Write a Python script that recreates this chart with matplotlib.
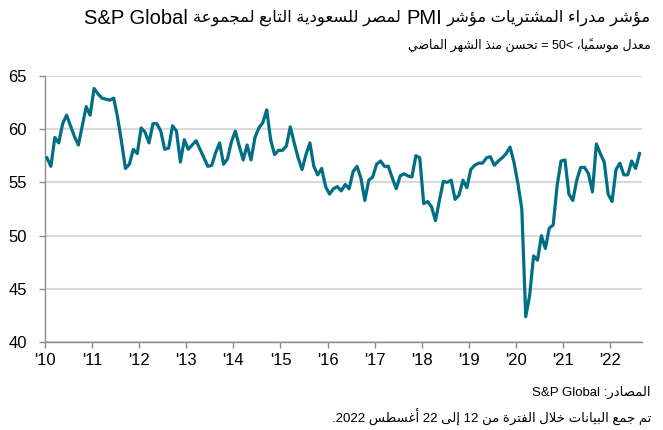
import matplotlib
matplotlib.use("Agg")
import matplotlib.pyplot as plt
import numpy as np

# ---------------- data ----------------
years = list(range(2010, 2023))
tick_labels = ["'10", "'11", "'12", "'13", "'14", "'15", "'16", "'17", "'18", "'19", "'20", "'21", "'22"]
pmi_2010 = [57.3, 56.5, 59.2, 58.7, 60.5, 61.3, 60.3, 59.3, 58.5, 60.3, 62.1, 61.3]
pmi_2011 = [63.8, 63.3, 62.9, 62.8, 62.7, 62.9, 61.1, 58.8, 56.3, 56.7, 58.1, 57.7]
pmi_2012 = [60.1, 59.7, 58.7, 60.5, 60.5, 59.8, 58.1, 58.2, 60.3, 59.8, 56.9, 59.0]
pmi_2013 = [58.1, 58.5, 58.9, 58.1, 57.3, 56.5, 56.6, 57.8, 58.7, 56.7, 57.2, 58.8]
pmi_2014 = [59.8, 58.4, 57.1, 58.5, 57.1, 59.2, 60.1, 60.6, 61.8, 59.0, 57.6, 58.0]
pmi_2015 = [58.0, 58.4, 60.2, 58.7, 57.3, 56.2, 57.6, 58.7, 56.5, 55.7, 56.3, 54.6]
pmi_2016 = [53.9, 54.4, 54.6, 54.2, 54.8, 54.4, 56.0, 56.5, 55.4, 53.3, 55.2, 55.5]
pmi_2017 = [56.7, 57.0, 56.5, 56.5, 55.4, 54.4, 55.6, 55.8, 55.6, 55.5, 57.5, 57.3]
pmi_2018 = [53.0, 53.2, 52.7, 51.4, 53.3, 55.1, 55.0, 55.2, 53.4, 53.8, 55.2, 54.5]
pmi_2019 = [56.2, 56.6, 56.8, 56.8, 57.3, 57.4, 56.6, 57.0, 57.3, 57.7, 58.3, 56.9]
pmi_2020 = [54.9, 52.5, 42.4, 44.4, 48.1, 47.7, 50.0, 48.8, 50.7, 51.0, 54.7, 57.0]
pmi_2021 = [57.1, 53.9, 53.3, 55.2, 56.4, 56.4, 55.8, 54.1, 58.6, 57.7, 56.9, 53.9]
pmi_2022 = [53.2, 56.2, 56.8, 55.7, 55.7, 57.0, 56.3, 57.7]

# title in logical (right-to-left) order, as runs: (words, is_latin)
title_runs = [("مؤشر مدراء المشتريات مؤشر", False), ("PMI", True),
              ("لمصر للسعودية التابع لمجموعة", False), ("S&P Global", True)]
subtitle_words = ["معدل", "موسميًا،", "50<", "=", "تحسن", "منذ", "الشهر", "الماضي"]
source_words = ["المصادر:", "S&P Global"]
note_words = ["تم", "جمع", "البيانات", "خلال", "الفترة", "من", "12", "إلى", "22", "أغسطس", ".2022"]

# ---------------- minimal Arabic shaping ----------------
DUAL = {0x0626: 0xFE89, 0x0628: 0xFE8F, 0x062A: 0xFE95, 0x062B: 0xFE99, 0x062C: 0xFE9D,
        0x062D: 0xFEA1, 0x062E: 0xFEA5, 0x0633: 0xFEB1, 0x0634: 0xFEB5, 0x0635: 0xFEB9,
        0x0636: 0xFEBD, 0x0637: 0xFEC1, 0x0638: 0xFEC5, 0x0639: 0xFEC9, 0x063A: 0xFECD,
        0x0641: 0xFED1, 0x0642: 0xFED5, 0x0643: 0xFED9, 0x0644: 0xFEDD, 0x0645: 0xFEE1,
        0x0646: 0xFEE5, 0x0647: 0xFEE9, 0x064A: 0xFEF1}
RIGHT = {0x0622: 0xFE81, 0x0623: 0xFE83, 0x0624: 0xFE85, 0x0625: 0xFE87, 0x0627: 0xFE8D,
         0x0629: 0xFE93, 0x062F: 0xFEA9, 0x0630: 0xFEAB, 0x0631: 0xFEAD, 0x0632: 0xFEAF,
         0x0648: 0xFEED, 0x0649: 0xFEEF}
NONJ = {0x0621: 0xFE80}
LAMALEF = {0x0622: 0xFEF5, 0x0623: 0xFEF7, 0x0625: 0xFEF9, 0x0627: 0xFEFB}


def is_mark(c):
    return 0x064B <= ord(c) <= 0x0652


def is_arabic(c):
    return 0x0600 <= ord(c) <= 0x06FF


def shape_word(word):
    clusters = []
    for ch in word:
        if is_mark(ch) and clusters:
            clusters[-1][1] += ch
        else:
            clusters.append([ch, ""])
    merged = []
    i = 0
    while i < len(clusters):
        b, m = clusters[i]
        if ord(b) == 0x0644 and i + 1 < len(clusters) and ord(clusters[i + 1][0]) in LAMALEF:
            merged.append(["LA" + clusters[i + 1][0], m + clusters[i + 1][1]])
            i += 2
        else:
            merged.append([b, m])
            i += 1

    def jtype(b):
        if b.startswith("LA"):
            return "R"
        o = ord(b)
        if o in DUAL:
            return "D"
        if o in RIGHT:
            return "R"
        if o in NONJ:
            return "U"
        return "X"

    out = []
    n = len(merged)
    for i, (b, m) in enumerate(merged):
        t = jtype(b)
        prev_joins = i > 0 and jtype(merged[i - 1][0]) == "D"
        next_joins = i + 1 < n and jtype(merged[i + 1][0]) in ("D", "R")
        if t == "D":
            base = DUAL[ord(b)]
            if prev_joins and next_joins:
                g = base + 3
            elif prev_joins:
                g = base + 1
            elif next_joins:
                g = base + 2
            else:
                g = base
            out.append(chr(g) + m)
        elif t == "R":
            base = LAMALEF[ord(b[2])] if b.startswith("LA") else RIGHT[ord(b)]
            out.append(chr(base + 1 if prev_joins else base) + m)
        elif t == "U":
            out.append(chr(NONJ[ord(b)]) + m)
        else:
            out.append(b + m)
    return "".join(reversed(out))


def rtl(words):
    vis = []
    for w in words:
        if any(is_arabic(c) for c in w):
            vis.append(shape_word(w))
        else:
            vis.append(w)
    return " ".join(reversed(vis))


# ---------------- plot ----------------
values = np.array(pmi_2010 + pmi_2011 + pmi_2012 + pmi_2013 + pmi_2014 + pmi_2015 +
                  pmi_2016 + pmi_2017 + pmi_2018 + pmi_2019 + pmi_2020 + pmi_2021 + pmi_2022)
months = np.arange(len(values)) + 0.5

W, H = 663, 430
fig = plt.figure(figsize=(W / 100, H / 100), dpi=100)
ax = fig.add_axes([45 / W, 1 - 342.3 / H, (641.5 - 45) / W, (342.3 - 75.7) / H])

fam = ["Liberation Sans", "DejaVu Sans"]
line_color = "#006E84"
grid_color = "#D9D9D9"
axis_color = "#8C8C8C"

ax.plot(months, values, color=line_color, lw=2.3, solid_joinstyle="round", zorder=3)
ax.set_xlim(0, 152)
ax.set_ylim(40, 65)
ax.set_yticks([40, 45, 50, 55, 60, 65])
ax.set_xticks([(y - 2010) * 12 for y in years])
ax.set_xticklabels(tick_labels)
ax.yaxis.grid(True, color=grid_color, lw=1.5, zorder=0)
ax.set_axisbelow(True)
for s in ["top", "right"]:
    ax.spines[s].set_visible(False)
for s in ["left", "bottom"]:
    ax.spines[s].set_color(axis_color)
    ax.spines[s].set_linewidth(1.0)
ax.tick_params(axis="both", direction="out", length=4, color=axis_color, width=1.0,
               labelsize=12, labelcolor="#000000")
ax.tick_params(axis="y", pad=9)
ax.tick_params(axis="x", pad=4)
for lab in ax.get_xticklabels() + ax.get_yticklabels():
    lab.set_family(fam)

xr = 651 / W

# title: place runs right-to-left with mixed sizes
renderer = fig.canvas.get_renderer()
cur = 651.0
ty = 1 - 18 / H
space_px = 5.0
for k, (txt, latin) in enumerate(title_runs):
    s = txt if latin else rtl(txt.split(" "))
    size = 14.5 if latin else 11.8
    t = fig.text(cur / W, ty, s, ha="right", va="center", fontsize=size,
                 family=fam, color="#000000")
    bb = t.get_window_extent(renderer=renderer)
    cur -= bb.width + space_px

fig.text(xr, 1 - 45 / H, rtl(subtitle_words), ha="right", va="center", fontsize=9,
         family=fam, color="#000000")
fig.text(xr, 1 - 392 / H, rtl(source_words), ha="right", va="center", fontsize=9.5,
         family=fam, color="#000000")
fig.text(xr, 1 - 417 / H, rtl(note_words), ha="right", va="center", fontsize=9.5,
         family=fam, color="#000000")

fig.savefig("out.png", dpi=100)
